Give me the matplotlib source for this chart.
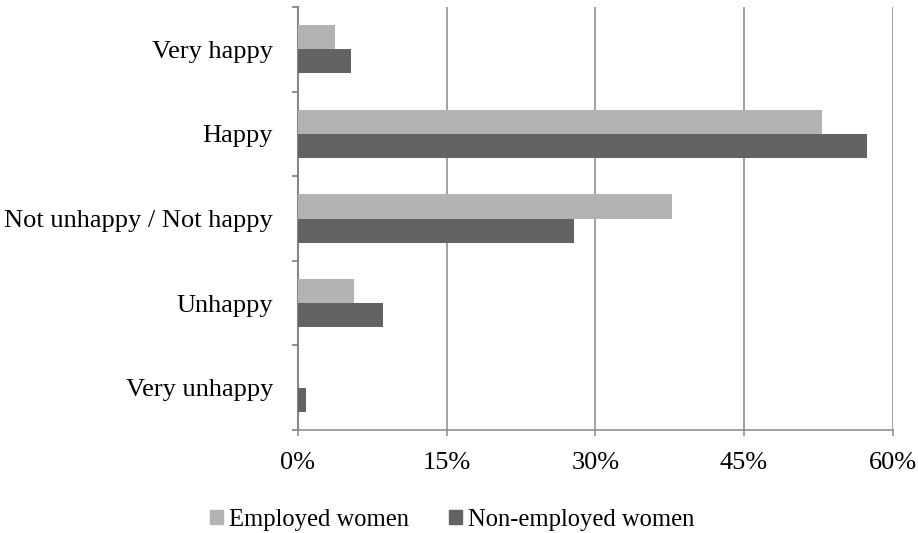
import numpy as np
import matplotlib.pyplot as plt
from matplotlib.patches import Patch
from matplotlib.ticker import FixedLocator, PercentFormatter

# happiness levels and shares (%) per group
categories = ["Very happy", "Happy", "Not unhappy / Not happy", "Unhappy", "Very unhappy"]
employed = [3.75, 52.9, 37.7, 5.65, 0.0]
non_employed = [5.3, 57.4, 27.85, 8.6, 0.85]

light = "#b3b3b3"
dark = "#636363"
grid_col = "#878787"

plt.rcParams["font.family"] = ["Liberation Serif", "DejaVu Serif"]

fig = plt.figure(figsize=(9.18, 5.33), dpi=100)
ax = fig.add_axes([0.3246, 0.1932, 0.9725 - 0.3246, 0.9869 - 0.1932])

y = np.arange(len(categories))
h = 0.284
ax.barh(y - h / 2, employed, height=h, color=light, zorder=3)
ax.barh(y + h / 2, non_employed, height=h, color=dark, zorder=3)

ax.set_xlim(0, 60)
ax.set_ylim(len(categories) - 0.5, -0.5)
ax.set_xticks([0, 15, 30, 45, 60])
ax.xaxis.set_major_formatter(PercentFormatter(decimals=0))
ax.xaxis.grid(True, color=grid_col, linewidth=1.1, zorder=0)

ax.set_yticks(y)
ax.set_yticklabels(categories)
ax.yaxis.set_minor_locator(FixedLocator(np.arange(-0.5, len(categories), 1)))
ax.tick_params(axis="y", which="major", length=0, pad=18, labelsize=19)
ax.tick_params(axis="y", which="minor", length=4.5, width=1.3, color=grid_col, direction="out")
ax.tick_params(axis="x", which="major", length=4.5, width=1.1, color=grid_col, labelsize=19, pad=11)

for side in ["top", "right"]:
    ax.spines[side].set_visible(False)
ax.spines["left"].set_color(grid_col)
ax.spines["left"].set_linewidth(1.5)
ax.spines["bottom"].set_color(grid_col)
ax.spines["bottom"].set_linewidth(1.1)

handles = [Patch(color=light, label="Employed women"),
           Patch(color=dark, label="Non-employed women")]
fig.legend(handles=handles, loc="lower center", bbox_to_anchor=(0.493, -0.037), ncol=2,
           frameon=False, fontsize=17.7, handlelength=0.52, handleheight=0.52,
           handletextpad=0.25, columnspacing=1.63)

fig.savefig("out.png", dpi=100)
